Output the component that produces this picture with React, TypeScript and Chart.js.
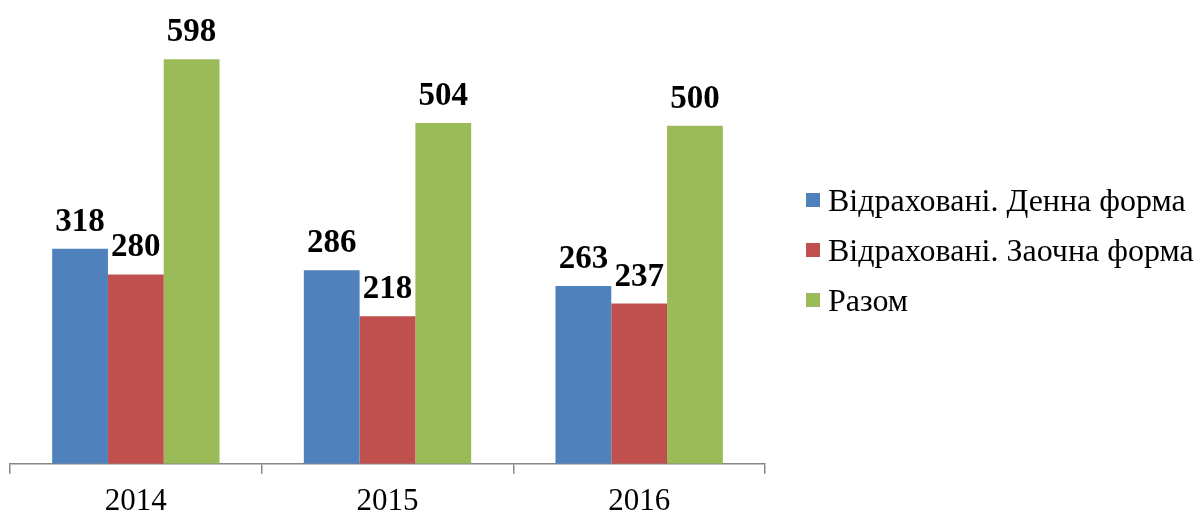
import React, { useEffect, useRef } from "react";
import { Chart, registerables } from "chart.js";

Chart.register(...registerables);

const categories = ["2014", "2015", "2016"];
const seriesNames = ["Відраховані. Денна форма", "Відраховані. Заочна форма", "Разом"];
const dayForm = [318, 286, 263];
const extramural = [280, 218, 237];
const total = [598, 504, 500];
const colors = ["#4F81BD", "#C0504D", "#9BBB59"];

const FONT = "'Liberation Serif', 'Times New Roman', serif";

const labelPlugin = {
  id: "valueLabels",
  afterDatasetsDraw(chart: any) {
    const ctx = chart.ctx;
    ctx.save();
    ctx.font = `bold 33px ${FONT}`;
    ctx.fillStyle = "#000";
    ctx.textAlign = "center";
    ctx.textBaseline = "alphabetic";
    chart.data.datasets.forEach((ds: any, i: number) => {
      const meta = chart.getDatasetMeta(i);
      meta.data.forEach((bar: any, j: number) => {
        ctx.fillText(String(ds.data[j]), bar.x, bar.y - 18);
      });
    });
    ctx.restore();
  },
};

export default function App() {
  const ref = useRef<HTMLCanvasElement>(null);
  useEffect(() => {
    const chart = new Chart(ref.current!, {
      type: "bar",
      data: {
        labels: categories,
        datasets: [dayForm, extramural, total].map((d, i) => ({
          label: seriesNames[i],
          data: d,
          backgroundColor: colors[i],
          borderWidth: 0,
          barPercentage: 1,
          categoryPercentage: 0.665,
        })),
      },
      options: {
        animation: false,
        responsive: false,
        maintainAspectRatio: false,
        layout: { padding: { left: 10, right: 435, top: 58, bottom: -13 } },
        plugins: { legend: { display: false }, tooltip: { enabled: false } },
        scales: {
          y: { display: false, min: 0, max: 600 },
          x: {
            offset: true,
            border: { display: true, color: "#868686", width: 1.5 },
            grid: {
              display: true,
              offset: true,
              drawOnChartArea: false,
              drawTicks: true,
              tickLength: 10,
              color: "#868686",
              lineWidth: 1.5,
            },
            ticks: {
              color: "#000",
              padding: 9,
              font: { family: FONT, size: 31 },
            },
          },
        },
      },
      plugins: [labelPlugin],
    });
    return () => chart.destroy();
  }, []);

  return (
    <div style={{ position: "fixed", left: 0, top: 0, width: 1200, height: 516, background: "#fff" }}>
      <canvas ref={ref} width={1200} height={516} style={{ position: "absolute", left: 0, top: 0 }} />
      <div style={{ position: "absolute", left: 806, top: 0, fontFamily: FONT, fontSize: 32, color: "#000" }}>
        {seriesNames.map((n, i) => (
          <div
            key={n}
            style={{ position: "absolute", top: 200 + i * 50 - 20, left: 0, height: 40, display: "flex", alignItems: "center", whiteSpace: "nowrap" }}
          >
            <span style={{ display: "inline-block", width: 14, height: 14, background: colors[i], marginRight: 8 }} />
            <span>{n}</span>
          </div>
        ))}
      </div>
    </div>
  );
}
